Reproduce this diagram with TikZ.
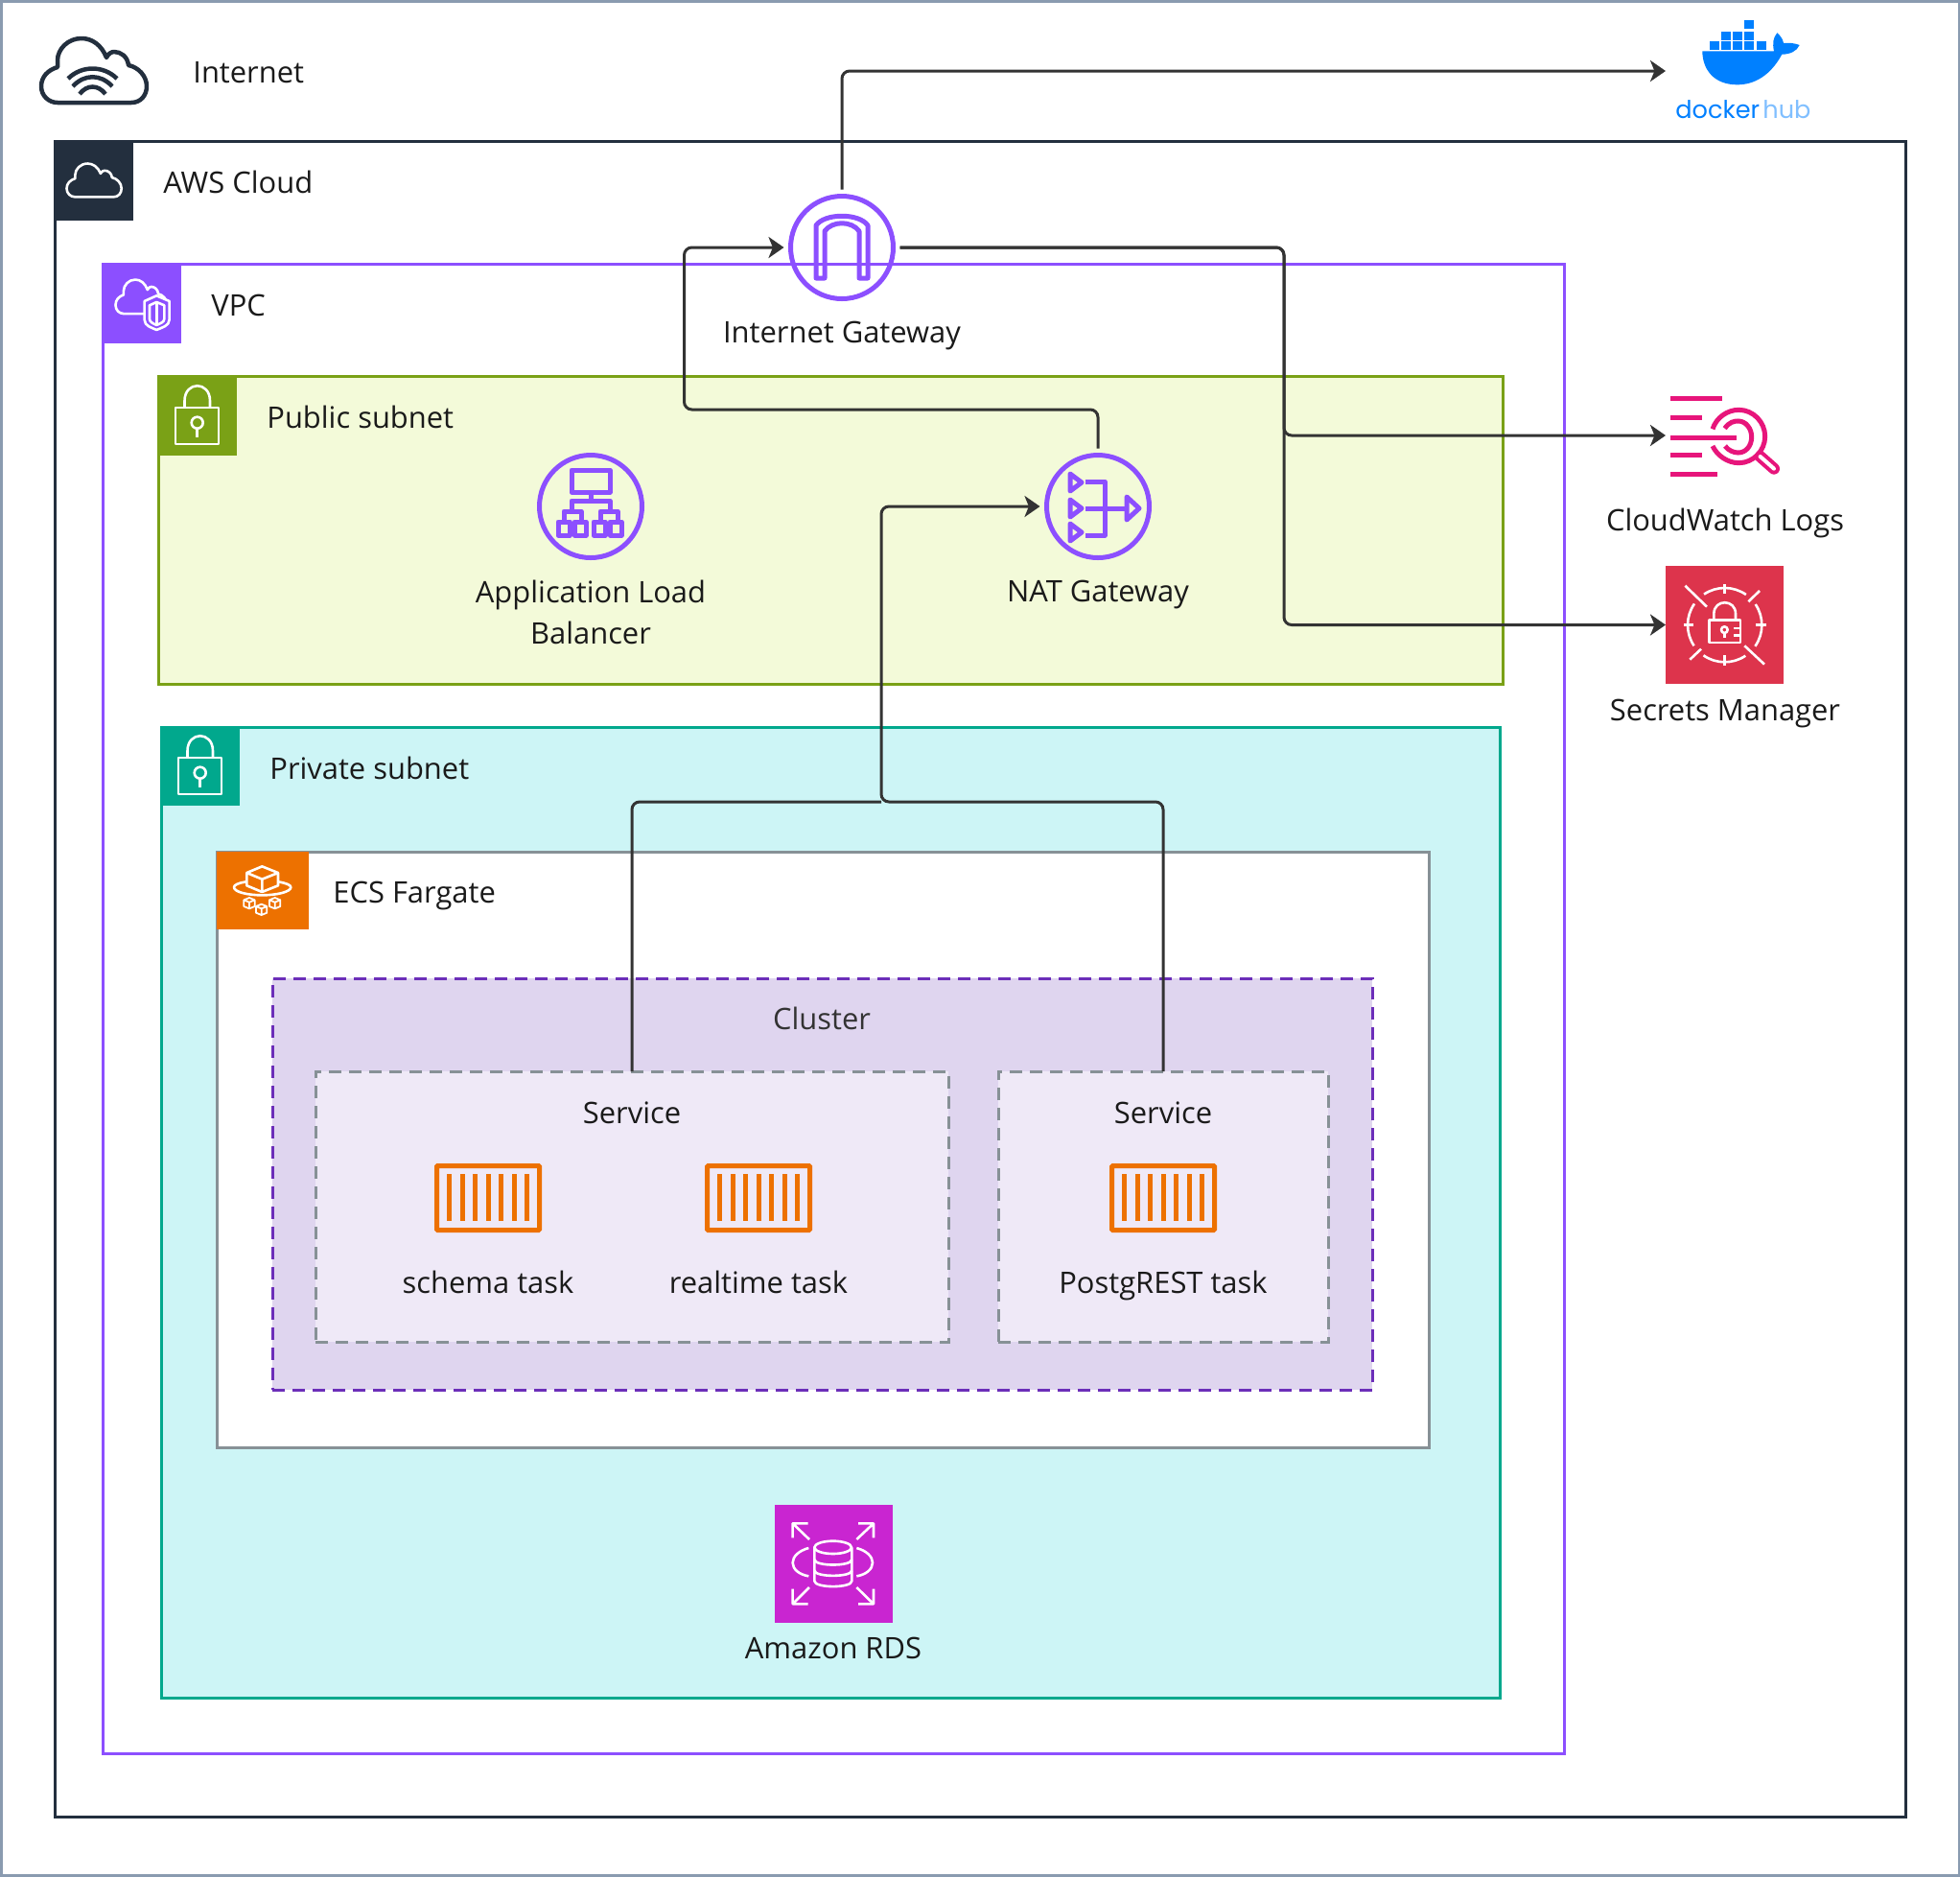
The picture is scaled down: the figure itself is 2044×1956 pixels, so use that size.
\documentclass[tikz,border=0pt]{standalone}
\usepackage{fontspec}
\setmainfont{Open Sans}
\newfontfamily\hubfont{Poppins}
\usetikzlibrary{arrows.meta}
\newlength{\du}
\setlength{\du}{0.5pt}
\definecolor{framegray}{HTML}{8A9BB0}
\definecolor{awsdark}{HTML}{232F3E}
\definecolor{vpcpurple}{HTML}{8C4FFF}
\definecolor{publicgreen}{HTML}{7AA116}
\definecolor{publicfill}{HTML}{F3FAD9}
\definecolor{privateteal}{HTML}{01A88D}
\definecolor{privatefill}{HTML}{CDF5F6}
\definecolor{ecsgray}{HTML}{879196}
\definecolor{ecsorange}{HTML}{ED7100}
\definecolor{clusterline}{HTML}{6C2EB9}
\definecolor{clusterfill}{HTML}{DFD5EF}
\definecolor{servicefill}{HTML}{EFE9F7}
\definecolor{cwpink}{HTML}{E7157B}
\definecolor{secretsred}{HTML}{DD344C}
\definecolor{rdsmagenta}{HTML}{C925D1}
\definecolor{dockerblue}{HTML}{0080FF}
\definecolor{hublight}{HTML}{80BFFF}
\definecolor{linegray}{HTML}{333333}
\definecolor{labelblack}{HTML}{1A1A1A}
\tikzset{
  groupbox/.style={draw,anchor=north west,outer sep=0pt,inner sep=0pt,line width=3\du},
  headbox/.style={anchor=north west,outer sep=0pt,inner sep=0pt},
  lbl/.style={font=\fontsize{15.45}{21.5}\selectfont,text=labelblack,inner sep=0pt,text height=11.5pt,text depth=3.5pt},
  lblwide/.style={font=\fontsize{15.45}{21.5}\selectfont,text=labelblack,inner sep=0pt,align=center},
  conn/.style={draw=linegray,line width=3\du,rounded corners=8\du,-{Stealth[length=8pt,width=11pt,inset=2.2pt]}},
  plainconn/.style={draw=linegray,line width=3\du,rounded corners=8\du},
  ringicon/.style={draw=vpcpurple,circle,line width=5\du,minimum size=107\du,inner sep=0pt,outer sep=7\du},
  glyph/.style={draw=vpcpurple,line width=5\du,line join=round},
  whiteline/.style={draw=white,line width=2.6\du,line join=round},
  taskbox/.style={draw=ecsorange,line width=5\du,minimum width=107\du,minimum height=67\du,inner sep=0pt,rounded corners=1\du},
  tilebox/.style={minimum size=123\du,inner sep=0pt,outer sep=0pt}
}
% cloud outline, 112 wide and 68 high
\newcommand{\cloudline}{(18,68) -- (95,68) .. controls (105,68) and (111,60) .. (111,51) .. controls (111,40) and (102,31) .. (92,29) .. controls (91,20) and (84,15) .. (77,15) .. controls (74,15) and (71,17) .. (69,21) .. controls (64,8) and (54,1) .. (43,1) .. controls (29,1) and (18,12) .. (18,24) -- (18,31) .. controls (8,34) and (1,41) .. (1,51) .. controls (1,61) and (9,68) .. (18,68) -- cycle}
\newcommand{\padlock}[2]{
  \begin{scope}[shift={(#1,#2)}]
    \draw[whiteline] (19,33) rectangle (64,71);
    \draw[whiteline] (28.5,33) -- (28.5,26) .. controls (28.5,5) and (55,5) .. (55,26) -- (55,33);
    \draw[whiteline] (41.7,48.7) circle [radius=6];
    \draw[whiteline] (41.7,54.7) -- (41.7,64);
  \end{scope}
}
\newcommand{\taskbars}[1]{
  \foreach \barx in {-40.5,-27,-13.5,0,13.5,27,40.5}
    \draw[ecsorange,line width=5\du] ({#1+\barx},1224) -- ({#1+\barx},1273);
}
\begin{document}
\begin{tikzpicture}[x=1\du,y=-1\du]
\useasboundingbox (0,0) rectangle (2044,1956);
\draw[framegray,line width=3\du,fill=white] (1,1) rectangle (2043,1955);
% groups
\node[groupbox,draw=awsdark,minimum width=1930\du,minimum height=1747\du] (awscloud) at (57,147) {};
\node[headbox,fill=awsdark,minimum size=83\du] (awshead) at (56,147) {};
\node[groupbox,draw=vpcpurple,minimum width=1524\du,minimum height=1553\du] (vpc) at (107,275) {};
\node[headbox,fill=vpcpurple,minimum size=83\du] (vpchead) at (106,275) {};
\node[groupbox,draw=publicgreen,fill=publicfill,minimum width=1402\du,minimum height=321\du] (public) at (165,392) {};
\node[headbox,fill=publicgreen,minimum size=83\du] (publichead) at (164,392) {};
\node[groupbox,draw=privateteal,fill=privatefill,minimum width=1396\du,minimum height=1012\du] (private) at (168,758) {};
\node[headbox,fill=privateteal,minimum size=83\du] (privatehead) at (167,757) {};
\node[groupbox,draw=ecsgray,fill=white,minimum width=1264\du,minimum height=621\du] (ecs) at (226,888) {};
\node[headbox,fill=ecsorange,minimum width=96\du,minimum height=81\du] (ecshead) at (226,888) {};
\node[groupbox,draw=clusterline,fill=clusterfill,line width=3\du,dash pattern=on 13\du off 8\du,minimum width=1147\du,minimum height=429\du] (cluster) at (284,1020) {};
\node[groupbox,draw=ecsgray,fill=servicefill,dash pattern=on 13\du off 8\du,minimum width=660\du,minimum height=282\du] (servicea) at (329,1117) {};
\node[groupbox,draw=ecsgray,fill=servicefill,dash pattern=on 13\du off 8\du,minimum width=344\du,minimum height=282\du] (serviceb) at (1041,1117) {};
% internet cloud
\begin{scope}[shift={(42,39)}]
\draw[awsdark,line width=4.5\du,line join=round] \cloudline;
\end{scope}
\draw[awsdark,line width=4.5\du] (71,82) .. controls (85,68) and (108,68) .. (122,82);
\draw[awsdark,line width=4.5\du] (76,90) .. controls (88,77) and (105,77) .. (117,90);
\draw[awsdark,line width=4.5\du] (83,98) .. controls (91,88) and (102,88) .. (110,98);
% aws and vpc head icons
\begin{scope}[shift={(69,170)},scale=0.52]
\draw[whiteline] \cloudline;
\end{scope}
\begin{scope}[shift={(120,291)},xscale=0.49,yscale=0.53]
\draw[whiteline] \cloudline;
\end{scope}
\begin{scope}[shift={(0,0)},scale=0.3333]
\draw[whiteline,fill=vpcpurple] (490,925) -- (530,942) -- (530,1000) .. controls (530,1020) and (505,1025) .. (490,1032) .. controls (475,1025) and (452,1020) .. (452,1000) -- (452,942) -- cycle;
\draw[whiteline] (490,945) -- (514,955) -- (514,998) .. controls (514,1008) and (500,1012) .. (490,1017) .. controls (480,1012) and (468,1008) .. (468,998) -- (468,955) -- cycle;
\draw[whiteline] (490,945) -- (490,1017);
\end{scope}
\padlock{164}{392}
\padlock{167}{757}
% fargate head icon
\begin{scope}[shift={(220,880)},scale=0.3333]
\draw[whiteline] (112,90) -- (160,70) -- (210,90) -- (210,130) -- (160,150) -- (112,130) -- cycle (112,90) -- (160,110) -- (210,90) (160,110) -- (160,150);
\draw[whiteline] (110,118) .. controls (85,122) and (72,128) .. (72,135) .. controls (72,150) and (115,160) .. (160,160) .. controls (205,160) and (250,150) .. (250,135) .. controls (250,128) and (235,122) .. (210,118);
\foreach \cubex/\cubey in {120/185,158/205,200/185}
  \draw[whiteline,line width=1.8\du,shift={(\cubex,\cubey)}] (-17,-10) -- (0,-17) -- (17,-10) -- (17,10) -- (0,17) -- (-17,10) -- cycle (-17,-10) -- (0,-3) -- (17,-10) (0,-3) -- (0,17);
\end{scope}
% gateways and balancer
\node[ringicon] (igw) at (878,258) {};
\node[ringicon] (alb) at (616,528) {};
\node[ringicon] (nat) at (1145,528) {};
\begin{scope}[shift={(878,258)}]
\draw[glyph] (-27,32) -- (-27,-23) .. controls (-18,-36) and (18,-36) .. (27,-23) -- (27,32) -- (18,32) -- (18,-17) .. controls (10,-28) and (-10,-28) .. (-18,-17) -- (-18,32) -- cycle;
\end{scope}
\begin{scope}[shift={(616,528)}]
\draw[glyph] (-20,-38) rectangle (20,-15);
\draw[glyph] (0,-15) -- (0,-6) (-20,5) -- (-20,-6) -- (20,-6) -- (20,5) (-28,16) -- (-28,5) -- (-10,5) -- (-10,16) (10,16) -- (10,5) -- (28,5) -- (28,16);
\foreach \leafx in {-34,-17,3,20}
  \draw[glyph] (\leafx,16) rectangle ++(12,14);
\end{scope}
\begin{scope}[shift={(1145,528)}]
\foreach \arrowy in {-25,2,27}
  \draw[glyph] (-29,{\arrowy-9}) -- (-17,\arrowy) -- (-29,{\arrowy+9}) -- cycle;
\draw[glyph] (-13,-26) -- (7,-26) -- (7,30) -- (-13,30) (-13,2) -- (30,2);
\draw[glyph] (30,-10) -- (43,2) -- (30,14) -- cycle;
\end{scope}
% docker hub
\node[inner sep=0pt,outer sep=0pt,minimum width=150\du,minimum height=40\du] (dockerhub) at (1812,74) {};
\begin{scope}[shift={(1700,0)},scale=0.3333]
\foreach \boxx/\boxy in {358/62,286/98,322/98,358/98,250/130,286/130,322/130,358/130,395/130}
  \fill[dockerblue] (\boxx,\boxy) rectangle ++(30,27);
\fill[dockerblue] (226,160) -- (450,160) .. controls (445,135) and (447,118) .. (460,103) .. controls (470,112) and (478,122) .. (480,135) .. controls (497,133) and (515,135) .. (530,141) .. controls (522,160) and (500,170) .. (475,170) .. controls (440,235) and (390,265) .. (335,265) .. controls (260,265) and (226,215) .. (226,160) -- cycle;
\end{scope}
\node[anchor=west,inner sep=0pt,text=dockerblue,font=\hubfont\fontsize{12.8}{16}\selectfont] (dockerword) at (1747,114) {docker};
\node[anchor=west,inner sep=0pt,text=hublight,font=\hubfont\fontsize{12.8}{16}\selectfont] (hubword) at (1838,114) {hub};
% cloudwatch logs
\node[inner sep=0pt,outer sep=0pt,minimum width=124\du,minimum height=84\du] (cwlogs) at (1799,454) {};
\begin{scope}[shift={(1700,390)},scale=0.3333]
\draw[cwpink,line width=5\du] (127,75) -- (288,75) (127,137) -- (226,137) (127,198) -- (333,198) (127,253) -- (226,253) (127,314) -- (272,314);
\draw[cwpink,line width=5\du] (258,172) .. controls (270,135) and (305,112) .. (340,112) .. controls (385,112) and (422,150) .. (422,195) .. controls (422,240) and (385,278) .. (340,278) .. controls (305,278) and (272,255) .. (258,225);
\draw[cwpink,line width=5\du] (296,170) .. controls (310,150) and (325,147) .. (338,147) .. controls (362,147) and (380,170) .. (380,197) .. controls (380,225) and (362,246) .. (338,246) .. controls (325,246) and (308,240) .. (297,225);
\draw[cwpink,line width=12\du,line cap=round] (407,258) -- (450,296);
\draw[white,line width=4\du,line cap=round] (407,258) -- (450,296);
\end{scope}
% secrets manager
\node[tilebox,fill=secretsred] (secrets) at (1798.5,651.5) {};
\begin{scope}[shift={(1700,390)},scale=0.3333]
\foreach \gapstart in {-124,-34,56,146}
  \draw[whiteline] ({296+116*cos(\gapstart)},{785+116*sin(\gapstart)}) arc [start angle=\gapstart,delta angle=69,radius=116];
\draw[whiteline] (296,658) -- (296,688) (168,785) -- (198,785) (393,785) -- (425,785) (296,880) -- (296,912);
\draw[whiteline] (172,662) -- (240,728) (405,678) -- (370,712) (222,860) -- (187,893) (358,850) -- (420,908);
\draw[whiteline] (248,770) rectangle (345,840);
\draw[whiteline] (262,770) -- (262,750) .. controls (262,703) and (330,703) .. (330,750) -- (330,770);
\draw[whiteline] (295,800) circle [radius=10];
\draw[whiteline] (295,810) -- (295,825) (324,795) -- (345,795) (324,817) -- (345,817);
\end{scope}
% rds
\node[tilebox,fill=rdsmagenta] (rds) at (869,1630) {};
\begin{scope}[shift={(780,1550)},scale=0.3333]
\draw[whiteline] (266,190) ellipse [x radius=58,y radius=20];
\draw[whiteline] (208,190) -- (208,295) .. controls (208,318) and (325,318) .. (325,295) -- (325,190);
\draw[whiteline] (208,228) .. controls (208,250) and (325,250) .. (325,228) (208,262) .. controls (208,284) and (325,284) .. (325,262);
\draw[whiteline] (190,192) .. controls (160,200) and (140,218) .. (140,238) .. controls (140,258) and (160,275) .. (190,280);
\draw[whiteline] (340,192) .. controls (370,200) and (390,218) .. (390,238) .. controls (390,258) and (370,275) .. (340,280);
\draw[whiteline] (192,165) -- (140,115) (140,160) -- (140,115) -- (188,115);
\draw[whiteline] (340,165) -- (393,115) (345,115) -- (393,115) -- (393,160);
\draw[whiteline] (192,315) -- (140,367) (140,320) -- (140,367) -- (188,367);
\draw[whiteline] (340,315) -- (393,367) (345,367) -- (393,367) -- (393,320);
\end{scope}
% tasks
\node[taskbox] (schematask) at (509,1249) {};
\node[taskbox] (realtimetask) at (791,1249) {};
\node[taskbox] (postgresttask) at (1213,1249) {};
\taskbars{509}
\taskbars{791}
\taskbars{1213}
% connectors
\coordinate (servicejoin) at (919,836);
\coordinate (natbend) at (713.5,427);
\coordinate (cwbend) at (1339,454);
\coordinate (secretsbend) at (1339,651.5);
\draw[plainconn] (servicea.north) |- (servicejoin);
\draw[conn] (serviceb.north) |- (servicejoin) |- (nat.west);
\draw[conn] (nat.north) |- (natbend) |- (igw.west);
\draw[conn] (igw.north) |- (dockerhub.west);
\draw[conn] (igw.east) -| (cwbend) -- (cwlogs.west);
\draw[conn] (igw.east) -| (secretsbend) -- (secrets.west);
% labels
\node[lbl,anchor=west] (internetlabel) at (201,78) {Internet};
\node[lbl,anchor=west] (awslabel) at (170,193) {AWS Cloud};
\node[lbl,anchor=west] (vpclabel) at (220,321) {VPC};
\node[lbl,anchor=west] (publiclabel) at (278,438) {Public subnet};
\node[lbl,anchor=west] (privatelabel) at (281,804) {Private subnet};
\node[lbl,anchor=west] (ecslabel) at (347,933) {ECS Fargate};
\node[lbl] (igwlabel) at (878,349) {Internet Gateway};
\node[lblwide] (alblabel) at (616,638) {Application Load\\Balancer};
\node[lbl] (natlabel) at (1145,619) {NAT Gateway};
\node[lbl] (cwlabel) at (1799,545) {CloudWatch Logs};
\node[lbl] (secretslabel) at (1799,743) {Secrets Manager};
\node[lbl] (rdslabel) at (869,1721) {Amazon RDS};
\node[lbl,text=linegray] (clusterlabel) at (857,1065) {Cluster};
\node[lbl] (serviceatext) at (659,1163) {Service};
\node[lbl] (servicebtext) at (1213,1163) {Service};
\node[lbl] (schemalabel) at (509,1340) {schema task};
\node[lbl] (realtimelabel) at (791,1340) {realtime task};
\node[lbl] (postgrestlabel) at (1213,1340) {PostgREST task};
\end{tikzpicture}
\end{document}
